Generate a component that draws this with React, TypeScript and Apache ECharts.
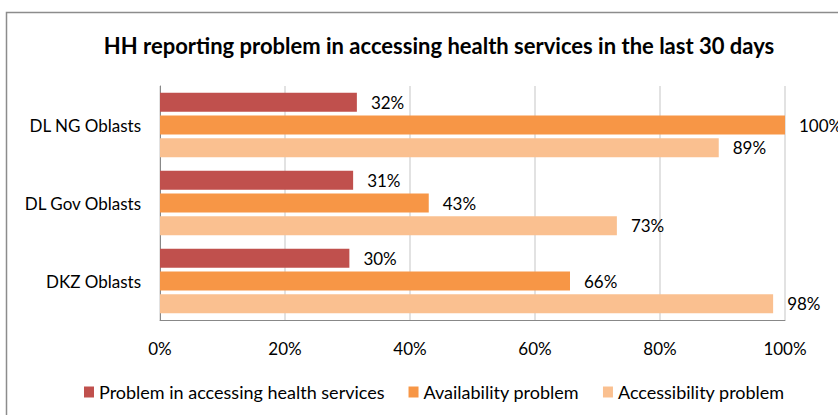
import React, { useEffect, useRef } from "react";
import * as echarts from "echarts";

const categories = ["DL NG Oblasts", "DL Gov Oblasts", "DKZ Oblasts"];
const seriesNames = [
  "Problem in accessing health services",
  "Availability problem",
  "Accessibility problem",
];
const problemAccess = [31.5, 30.9, 30.3];
const availability = [100, 43, 65.6];
const accessibility = [89.4, 73.1, 98.1];
const xTicks = [0, 20, 40, 60, 80, 100];
const colors = ["#C0504D", "#F79646", "#FAC090"];

const FONT = "Lato, 'Open Sans', sans-serif";

export default function App() {
  const ref = useRef<HTMLDivElement>(null);
  useEffect(() => {
    if (!ref.current) return;
    const chart = echarts.init(ref.current, undefined, { renderer: "svg" });
    const values = [problemAccess, availability, accessibility];
    chart.setOption({
      animation: false,
      backgroundColor: "#ffffff",
      textStyle: { fontFamily: FONT },
      title: {
        text: "HH reporting problem in accessing health services in the last 30 days",
        left: 434,
        textAlign: "center",
        top: 29,
        textStyle: { fontFamily: FONT, fontWeight: "bold", fontSize: 22, color: "#000" },
      },
      graphic: [
        {
          type: "rect",
          shape: { x: 6.5, y: 12.5, width: 1000, height: 1000 },
          style: { fill: "none", stroke: "#8c8c8c", lineWidth: 1.5 },
          silent: true,
        },
      ],
      legend: {
        data: seriesNames,
        left: 79,
        top: 378,
        icon: "rect",
        itemWidth: 10,
        itemHeight: 11,
        itemGap: 24,
        textStyle: { fontFamily: FONT, fontSize: 18, color: "#000" },
      },
      grid: { left: 160, right: 53, top: 86, bottom: 95, containLabel: false },
      xAxis: {
        type: "value",
        min: xTicks[0],
        max: xTicks[xTicks.length - 1],
        interval: 20,
        axisLabel: {
          formatter: "{value}%",
          fontFamily: FONT,
          fontSize: 17,
          color: "#000",
          margin: 20,
        },
        axisLine: { show: true, lineStyle: { color: "#888888" } },
        axisTick: { show: false },
        splitLine: { show: true, lineStyle: { color: "#D9D9D9", width: 1.5 } },
      },
      yAxis: {
        type: "category",
        data: categories,
        inverse: true,
        axisLabel: { fontFamily: FONT, fontSize: 17, color: "#000", margin: 19 },
        axisLine: { show: true, lineStyle: { color: "#888888" } },
        axisTick: { show: false },
        splitLine: { show: false },
      },
      series: seriesNames.map((name, i) => ({
        name,
        type: "bar",
        data: values[i],
        barWidth: 19,
        barGap: "20%",
        itemStyle: { color: colors[i] },
        label: {
          show: true,
          position: "right",
          distance: 14,
          formatter: (p: any) => Math.round(p.value) + "%",
          fontFamily: FONT,
          fontSize: 17,
          color: "#000",
        },
      })),
    });
    return () => chart.dispose();
  }, []);
  return (
    <div
      ref={ref}
      style={{ position: "fixed", left: 0, top: 0, width: 838, height: 415 }}
    />
  );
}
